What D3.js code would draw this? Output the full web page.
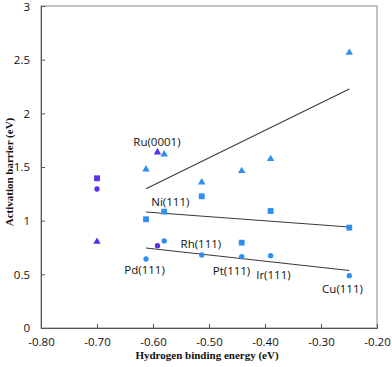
<!DOCTYPE html>
<html><head><meta charset="utf-8">
<script src="https://cdn.jsdelivr.net/npm/d3@7"></script>
<style>body{margin:0;background:#fff}</style>
</head><body><svg id="c" width="392" height="367"></svg>
<script>
// Data
const xTicks = [-0.80,-0.70,-0.60,-0.50,-0.40,-0.30,-0.20];
const yTicks = [0,0.5,1,1.5,2,2.5,3];
const metalX = [-0.6125,-0.580,-0.513,-0.4416,-0.390,-0.2495];
const triY   = [1.479,1.618,1.358,1.463,1.575,2.565];
const sqY    = [1.013,1.084,1.227,0.795,1.090,0.935];
const cirY   = [0.643,0.811,0.680,0.664,0.674,0.487];
const purpleTri = [[-0.70,0.804],[-0.592,1.637]];
const purpleSq  = [[-0.70,1.395]];
const purpleCir = [[-0.70,1.295],[-0.592,0.767]];
const labels = [
  {t:"Ru(0001)", x:-0.593, y:1.700},
  {t:"Ni(111)",  x:-0.569, y:1.141},
  {t:"Pd(111)",  x:-0.615, y:0.500},
  {t:"Rh(111)",  x:-0.5145,y:0.741},
  {t:"Pt(111)",  x:-0.4598,y:0.498},
  {t:"Ir(111)",  x:-0.385, y:0.460},
  {t:"Cu(111)",  x:-0.2616,y:0.322}
];

const BLUE = "#2f8ef2", PURPLE = "#5a2eec";
const svg = d3.select("#c");
const L=41,R=377,T=6,B=328;
const x = d3.scaleLinear().domain([-0.8,-0.2]).range([L,R]);
const y = d3.scaleLinear().domain([0,3]).range([B,T]);

// frame
svg.append("rect").attr("x",L).attr("y",T).attr("width",R-L).attr("height",B-T)
  .attr("fill","none").attr("stroke","#8a8a8a").attr("stroke-width",1);

// axes
const xa = svg.append("g").attr("transform",`translate(0,${B})`)
  .call(d3.axisBottom(x).tickValues(xTicks).tickSize(-4).tickPadding(10).tickFormat(d3.format(".2f")));
const ya = svg.append("g").attr("transform",`translate(${L},0)`)
  .call(d3.axisLeft(y).tickValues(yTicks).tickSize(-4).tickPadding(11).tickFormat(d=>d));
[xa,ya].forEach(a=>{
  a.select(".domain").attr("stroke","#555");
  a.selectAll(".tick line").attr("stroke","#555");
  a.selectAll("text").attr("font-family","'Open Sans', 'Liberation Sans', sans-serif").attr("font-size",11.5).attr("fill","#111");
});
xa.selectAll(".tick text").text(d=>d3.format(".2f")(d).replace("−","-"));
ya.selectAll(".tick text").filter(d=>d===3).attr("dy","0.42em");

// regression lines
function fit(xs,ys){
  const mx=d3.mean(xs), my=d3.mean(ys);
  const s=d3.sum(xs,(v,i)=>(v-mx)*(ys[i]-my))/d3.sum(xs,v=>(v-mx)*(v-mx));
  const ext=d3.extent(xs);
  return ext.map(v=>[v,my+s*(v-mx)]);
}
const line=d3.line().x(d=>x(d[0])).y(d=>y(d[1]));
[triY,sqY,cirY].forEach(ys=>{
  svg.append("path").attr("d",line(fit(metalX,ys))).attr("fill","none").attr("stroke","#3a3a3a").attr("stroke-width",1.1);
});

// markers
const tri=d3.symbol().type(d3.symbolTriangle).size(24);
const sq=d3.symbol().type(d3.symbolSquare).size(34);
const cir=d3.symbol().type(d3.symbolCircle).size(22);
function draw(pts,sym,col){
  svg.append("g").selectAll("path").data(pts).join("path")
    .attr("d",sym).attr("fill",col)
    .attr("transform",d=>`translate(${x(d[0])},${y(d[1])})`);
}
draw(metalX.map((v,i)=>[v,triY[i]]),tri,BLUE);
draw(metalX.map((v,i)=>[v,sqY[i]]),sq,BLUE);
draw(metalX.map((v,i)=>[v,cirY[i]]),cir,BLUE);
draw(purpleTri,tri,PURPLE);
draw(purpleSq,sq,PURPLE);
draw(purpleCir,cir,PURPLE);

// labels
svg.append("g").selectAll("text").data(labels).join("text")
  .attr("x",d=>x(d.x)).attr("y",d=>y(d.y)).attr("text-anchor","middle")
  .attr("font-family","'Open Sans', 'Liberation Sans', sans-serif").attr("font-size",11.5).attr("fill","#111")
  .text(d=>d.t);

// axis titles
svg.append("text").attr("x",(L+R)/2-2).attr("y",359).attr("text-anchor","middle")
  .attr("font-family","'Liberation Serif', serif").attr("font-weight","bold").attr("font-size",11).attr("fill","#111")
  .text("Hydrogen binding energy (eV)");
svg.append("text").attr("transform","translate(13,172) rotate(-90)").attr("text-anchor","middle")
  .attr("font-family","'Liberation Serif', serif").attr("font-weight","bold").attr("font-size",11).attr("fill","#111")
  .text("Activation barrier (eV)");
</script></body></html>
